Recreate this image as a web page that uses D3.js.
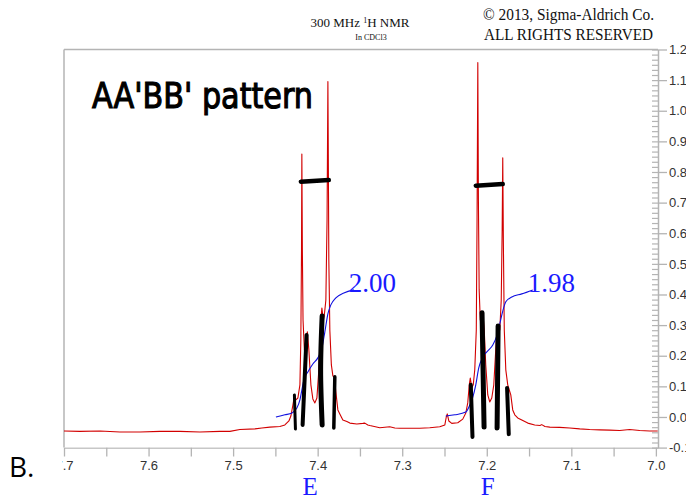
<!DOCTYPE html>
<html>
<head>
<meta charset="utf-8">
<script src="https://cdn.jsdelivr.net/npm/d3@7"></script>
<style>
  html, body { margin: 0; padding: 0; background: #fff; }
  svg { display: block; }
</style>
</head>
<body>
<script>
// red trace, [ppm, intensity]
var spectrum = [
  [7.7000,-0.046],[7.6811,-0.047],[7.6574,-0.046],[7.6338,-0.049],[7.6102,-0.049],
  [7.5865,-0.047],[7.5629,-0.047],[7.5392,-0.049],[7.5156,-0.047],[7.5038,-0.047],
  [7.4920,-0.041],[7.4742,-0.039],[7.4660,-0.036],[7.4565,-0.033],[7.4447,-0.031],
  [7.4388,-0.026],[7.4340,-0.013],[7.4317,0.003],[7.4293,0.039],[7.4275,0.069],
  [7.4258,0.056],[7.4234,0.062],[7.4210,0.105],[7.4199,0.252],[7.4191,0.546],
  [7.4187,0.859],[7.4181,0.546],[7.4173,0.317],[7.4157,0.219],[7.4139,0.252],
  [7.4122,0.278],[7.4104,0.219],[7.4080,0.105],[7.4057,0.059],[7.4033,0.046],
  [7.4009,0.062],[7.3986,0.154],[7.3962,0.317],[7.3950,0.356],[7.3933,0.317],
  [7.3921,0.333],[7.3903,0.382],[7.3889,0.644],[7.3879,1.095],[7.3874,0.846],
  [7.3868,0.513],[7.3856,0.284],[7.3838,0.170],[7.3820,0.134],[7.3803,0.131],
  [7.3785,0.082],[7.3761,0.023],[7.3738,0.010],[7.3702,-0.010],[7.3655,-0.015],
  [7.3619,-0.020],[7.3537,-0.023],[7.3466,-0.021],[7.3442,-0.020],[7.3407,-0.026],
  [7.3383,-0.028],[7.3265,-0.035],[7.3147,-0.032],[7.3087,-0.036],[7.3028,-0.037],
  [7.2910,-0.037],[7.2792,-0.037],[7.2674,-0.035],[7.2556,-0.032],[7.2496,-0.026],
  [7.2479,0.000],[7.2467,0.010],[7.2449,-0.013],[7.2414,-0.021],[7.2343,-0.019],
  [7.2284,-0.007],[7.2248,0.013],[7.2225,0.046],[7.2207,0.105],[7.2195,0.127],
  [7.2177,0.095],[7.2160,0.105],[7.2142,0.154],[7.2124,0.284],[7.2115,0.644],
  [7.2106,1.157],[7.2099,0.709],[7.2090,0.415],[7.2077,0.317],[7.2059,0.324],
  [7.2047,0.340],[7.2030,0.284],[7.2012,0.170],[7.1988,0.072],[7.1965,0.049],
  [7.1941,0.062],[7.1917,0.105],[7.1894,0.219],[7.1876,0.294],[7.1864,0.301],
  [7.1846,0.284],[7.1829,0.382],[7.1818,0.611],[7.1811,0.846],[7.1804,0.578],
  [7.1793,0.284],[7.1775,0.154],[7.1752,0.105],[7.1734,0.088],[7.1716,0.072],
  [7.1693,0.023],[7.1669,0.007],[7.1634,-0.003],[7.1586,-0.010],[7.1515,-0.020],
  [7.1433,-0.026],[7.1371,-0.028],[7.1350,-0.025],[7.1312,-0.031],[7.1255,-0.033],
  [7.1137,-0.034],[7.1019,-0.036],[7.0901,-0.039],[7.0783,-0.041],[7.0664,-0.042],
  [7.0546,-0.043],[7.0428,-0.044],[7.0310,-0.041],[7.0191,-0.044],[7.0073,-0.046],
  [6.9979,-0.046]
];

// blue integral traces
var integralE = [
  [7.4494,0.000],[7.4388,0.007],[7.4305,0.013],[7.4246,0.029],[7.4210,0.056],
  [7.4187,0.088],[7.4163,0.121],[7.4116,0.147],[7.4057,0.173],[7.3998,0.193],
  [7.3950,0.225],[7.3915,0.278],[7.3879,0.337],[7.3844,0.366],[7.3785,0.389],
  [7.3690,0.405],[7.3572,0.415]
];
var integralF = [
  [7.2485,0.003],[7.2378,0.007],[7.2248,0.016],[7.2201,0.039],[7.2165,0.065],
  [7.2130,0.105],[7.2095,0.160],[7.2047,0.196],[7.1988,0.216],[7.1929,0.235],
  [7.1882,0.265],[7.1846,0.304],[7.1811,0.346],[7.1775,0.376],[7.1704,0.392],
  [7.1586,0.402],[7.1456,0.415]
];
var integralValues = ["2.00", "1.98"];

var groupNames = ["E", "F"];
var groupCenters = [7.409, 7.199];

// hand-drawn marks: coupling bars [from ppm, to ppm, level]
var couplingBars = [[7.4199, 7.3868, 0.771], [7.2130, 7.1811, 0.758]];
// hand-drawn strokes under the lines, [ppm, intensity] points
var penStrokes = [
  [[7.4275,0.072],[7.4263,-0.039]],
  [[7.4131,0.268],[7.4178,-0.026]],
  [[7.3947,0.330],[7.3965,0.154],[7.3947,-0.026]],
  [[7.3797,0.131],[7.3809,-0.036]],
  [[7.2189,0.105],[7.2169,-0.065]],
  [[7.2056,0.340],[7.2032,-0.033]],
  [[7.1866,0.297],[7.1878,-0.036]],
  [[7.1760,0.095],[7.1740,-0.056]]
];
var strokeWidths = [3, 4, 5, 3.5, 4, 5, 5, 4];

var xMajor = [7.7, 7.6, 7.5, 7.4, 7.3, 7.2, 7.1, 7.0];
var xMinor = [7.65, 7.55, 7.45, 7.35, 7.25, 7.15, 7.05];
var yMajor = [-0.1, 0.0, 0.1, 0.2, 0.3, 0.4, 0.5, 0.6, 0.7, 0.8, 0.9, 1.0, 1.1, 1.2];

var W = 686, H = 498;
var svg = d3.select("body").append("svg").attr("width", W).attr("height", H);

var x = d3.scaleLinear().domain([7.7, 6.9975]).range([64, 658]);
var y = d3.scaleLinear().domain([-0.1, 1.2]).range([447.6, 49.5]);

var grey = "#b4b4b4";

// frame top and left
svg.append("line").attr("x1", 64).attr("x2", 658).attr("y1", y(1.2)).attr("y2", y(1.2))
  .attr("stroke", grey).attr("stroke-width", 1.5);
svg.append("line").attr("x1", 64).attr("x2", 64).attr("y1", y(1.2)).attr("y2", y(-0.1))
  .attr("stroke", grey).attr("stroke-width", 1.5);

// x axis
svg.append("clipPath").attr("id", "xclip").append("rect")
  .attr("x", 62).attr("y", 0).attr("width", W).attr("height", H);
var xAxis = svg.append("g")
  .attr("transform", "translate(0," + y(-0.1) + ")")
  .attr("clip-path", "url(#xclip)")
  .call(d3.axisBottom(x).tickValues(xMajor.concat(xMinor)).tickSize(9).tickSizeOuter(0).tickPadding(4)
    .tickFormat(function (d) { return xMajor.indexOf(d) >= 0 ? d.toFixed(1) : ""; }));
xAxis.select(".domain").attr("stroke", grey).attr("stroke-width", 1.5);
xAxis.selectAll(".tick line").attr("stroke", grey).attr("stroke-width", 1.3);
xAxis.selectAll(".tick text").attr("fill", "#333")
  .style("font-family", "'Liberation Sans', Arial, sans-serif").style("font-size", "13px");

// y axis on the right
var yMinor = [];
yMajor.slice(0, -1).forEach(function (v) {
  for (var k = 1; k < 6; k++) yMinor.push(v + k * 0.1 / 6);
});
var yAxis = svg.append("g")
  .attr("transform", "translate(658,0)")
  .call(d3.axisRight(y).tickValues(yMajor).tickSize(9).tickSizeOuter(0).tickPadding(2)
    .tickFormat(function (d) { return d.toFixed(1); }));
yAxis.select(".domain").attr("stroke", grey).attr("stroke-width", 1.5);
yAxis.selectAll(".tick line").attr("stroke", grey).attr("stroke-width", 1.3);
yAxis.selectAll(".tick text").attr("fill", "#333")
  .style("font-family", "'Liberation Sans', Arial, sans-serif").style("font-size", "13px");
var yMinorAxis = svg.append("g")
  .attr("transform", "translate(658,0)")
  .call(d3.axisRight(y).tickValues(yMinor.concat(yMajor)).tickSize(-6).tickFormat(""));
yMinorAxis.select(".domain").remove();
yMinorAxis.selectAll(".tick line").attr("stroke", grey).attr("stroke-width", 1.2);

// spectrum
var line = d3.line().x(function (d) { return x(d[0]); }).y(function (d) { return y(d[1]); });
svg.append("path").datum(spectrum).attr("d", line)
  .attr("fill", "none").attr("stroke", "#d20000").attr("stroke-width", 1.1)
  .attr("stroke-linejoin", "round");

// integrals
var serif = "'Liberation Serif', 'Times New Roman', serif";
var smooth = d3.line().curve(d3.curveMonotoneX)
  .x(function (d) { return x(d[0]); }).y(function (d) { return y(d[1]); });
[integralE, integralF].forEach(function (curve, i) {
  svg.append("path").datum(curve).attr("d", smooth)
    .attr("fill", "none").attr("stroke", "#1010e0").attr("stroke-width", 1.1);
  var end = curve[curve.length - 1];
  svg.append("text")
    .attr("x", x(end[0]) - 5).attr("y", y(end[1]) + 2)
    .attr("fill", "#1a1aff")
    .style("font-family", serif).style("font-size", "27px")
    .text(integralValues[i]);
});

// hand-drawn annotations
couplingBars.forEach(function (b) {
  svg.append("line")
    .attr("x1", x(b[0])).attr("x2", x(b[1])).attr("y1", y(b[2]) + 0.8).attr("y2", y(b[2]) - 0.8)
    .attr("stroke", "#000").attr("stroke-width", 4.5).attr("stroke-linecap", "round");
});
var pen = d3.line().curve(d3.curveCatmullRom)
  .x(function (d) { return x(d[0]); }).y(function (d) { return y(d[1]); });
penStrokes.forEach(function (s, i) {
  svg.append("path").datum(s).attr("d", pen)
    .attr("fill", "none").attr("stroke", "#000")
    .attr("stroke-width", strokeWidths[i]).attr("stroke-linecap", "round");
});

svg.append("text")
  .attr("x", 92).attr("y", 108)
  .attr("textLength", 221).attr("lengthAdjust", "spacingAndGlyphs")
  .attr("fill", "#000").attr("stroke", "#000").attr("stroke-width", 1.2)
  .style("font-family", "'DejaVu Sans', sans-serif").style("font-size", "36px")
  .text("AA'BB' pattern");

// header
svg.append("text").attr("x", 360).attr("y", 27).attr("text-anchor", "middle")
  .attr("fill", "#111").style("font-family", serif).style("font-size", "13px")
  .html("300 MHz <tspan baseline-shift='super' font-size='8px'>1</tspan>H NMR");
svg.append("text").attr("x", 371).attr("y", 40).attr("text-anchor", "middle")
  .attr("fill", "#111").style("font-family", serif).style("font-size", "8px")
  .text("In CDCl3");
svg.append("text").attr("x", 483).attr("y", 20)
  .attr("textLength", 171).attr("lengthAdjust", "spacingAndGlyphs")
  .attr("fill", "#111").style("font-family", serif).style("font-size", "16px")
  .text("\u00a9 2013, Sigma-Aldrich Co.");
svg.append("text").attr("x", 484).attr("y", 40)
  .attr("textLength", 169).attr("lengthAdjust", "spacingAndGlyphs")
  .attr("fill", "#111").style("font-family", serif).style("font-size", "16px")
  .text("ALL RIGHTS RESERVED");

// bottom labels
svg.append("text").attr("x", 9).attr("y", 477)
  .attr("fill", "#000").style("font-family", "'Open Sans', sans-serif").style("font-size", "28px")
  .text("B.");
groupNames.forEach(function (g, i) {
  svg.append("text").attr("x", x(groupCenters[i])).attr("y", 495).attr("text-anchor", "middle")
    .attr("fill", "#1a1aff").style("font-family", serif).style("font-size", "25px")
    .text(g);
});
</script>
</body>
</html>
